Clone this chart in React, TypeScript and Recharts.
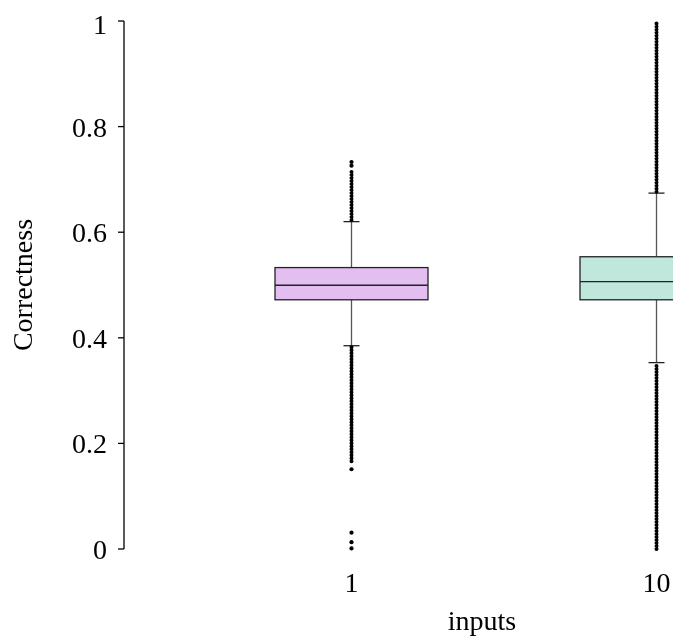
import { ComposedChart, Bar, Scatter, XAxis, YAxis, ReferenceLine } from "recharts";

const inputs = ["1", "10"];
const q1 = [0.472, 0.472];
const medians = [0.4995, 0.5065];
const q3 = [0.533, 0.5535];
const whiskerLow = [0.385, 0.353];
const whiskerHigh = [0.62, 0.674];
const yTicks = [0, 0.2, 0.4, 0.6, 0.8, 1];

// dense runs of outliers (drawn as dotted segments): [input, from, to]
const outlierRuns: [string, number, number][] = [
    ["1", 0.623, 0.717],
    ["1", 0.166, 0.382],
    ["10", 0.677, 1.0],
    ["10", 0.0, 0.349],
];
// isolated outliers
const outlierInputs = ["1", "1", "1", "1", "1", "1"];
const outlierValues = [0.733, 0.726, 0.151, 0.031, 0.013, 0.001];

const fills = ["#e3bff1", "#bfe7db"];
const font = '"Liberation Serif", "DejaVu Serif", serif';

const data = inputs.map((input, i) => ({
    input,
    box: [q1[i], q3[i]],
    q1: q1[i],
    q3: q3[i],
    median: medians[i],
    lo: whiskerLow[i],
    hi: whiskerHigh[i],
}));

const outliers = outlierValues.map((value, i) => ({ input: outlierInputs[i], value }));

function BoxShape(props: any) {
    const { x, y, width, height, payload, index } = props;
    const unit = height / (payload.q3 - payload.q1);
    const yOf = (v: number) => y + (payload.q3 - v) * unit;
    const cx = x + width / 2;
    return (
        <g>
            <line x1={cx} x2={cx} y1={yOf(payload.q3)} y2={yOf(payload.hi)} stroke="#555" strokeWidth={1.3} />
            <line x1={cx} x2={cx} y1={yOf(payload.q1)} y2={yOf(payload.lo)} stroke="#555" strokeWidth={1.3} />
            <line x1={cx - 8} x2={cx + 8} y1={yOf(payload.hi)} y2={yOf(payload.hi)} stroke="#222" strokeWidth={1.3} />
            <line x1={cx - 8} x2={cx + 8} y1={yOf(payload.lo)} y2={yOf(payload.lo)} stroke="#222" strokeWidth={1.3} />
            <rect x={x} y={y} width={width} height={height} fill={fills[index]} stroke="#222" strokeWidth={1.3} />
            <line x1={x} x2={x + width} y1={yOf(payload.median)} y2={yOf(payload.median)} stroke="#222" strokeWidth={1.3} />
        </g>
    );
}

export default function App() {
    return (
        <div style={{ position: "fixed", top: 8, left: 8, width: 665, height: 630, overflow: "hidden" }}>
            <ComposedChart width={840} height={630} data={data} margin={{ top: 13, right: 8, bottom: 0, left: 0 }}>
                <XAxis
                    dataKey="input"
                    type="category"
                    allowDuplicatedCategory={false}
                    padding={{ left: 75, right: 31 }}
                    axisLine={false}
                    tickLine={false}
                    tickSize={0}
                    tickMargin={23}
                    height={89}
                    tick={{ fontFamily: font, fontSize: 28, fill: "#000" }}
                    label={(p: any) => (
                        <text
                            x={p.viewBox.x + p.viewBox.width / 2}
                            y={p.viewBox.y + p.viewBox.height - 8}
                            textAnchor="middle"
                            fontFamily={font}
                            fontSize={28}
                            fill="#000"
                        >
                            inputs
                        </text>
                    )}
                />
                <YAxis
                    type="number"
                    domain={[0, 1]}
                    ticks={yTicks}
                    width={116}
                    tickSize={6}
                    tickMargin={11}
                    axisLine={{ stroke: "#000", strokeWidth: 1.3 }}
                    tickLine={{ stroke: "#000", strokeWidth: 1.3 }}
                    tick={{ fontFamily: font, fontSize: 28, fill: "#000" }}
                    label={(p: any) => {
                        const lx = p.viewBox.x + 14;
                        const ly = p.viewBox.y + p.viewBox.height / 2;
                        return (
                            <text
                                x={lx}
                                y={ly}
                                transform={`rotate(-90, ${lx}, ${ly})`}
                                textAnchor="middle"
                                dominantBaseline="central"
                                fontFamily={font}
                                fontSize={28}
                                fill="#000"
                            >
                                Correctness
                            </text>
                        );
                    }}
                />
                {outlierRuns.map(([input, from, to], i) => (
                    <ReferenceLine
                        key={i}
                        segment={[{ x: input, y: from }, { x: input, y: to }]}
                        stroke="#000"
                        strokeWidth={4}
                        strokeDasharray="0 3"
                        strokeLinecap="round"
                        ifOverflow="visible"
                    />
                ))}
                <Bar dataKey="box" barSize={153} shape={<BoxShape />} isAnimationActive={false} />
                <Scatter
                    data={outliers}
                    dataKey="value"
                    isAnimationActive={false}
                    shape={(p: any) => <circle cx={p.cx} cy={p.cy} r={2.1} fill="#000" />}
                />
            </ComposedChart>
        </div>
    );
}
